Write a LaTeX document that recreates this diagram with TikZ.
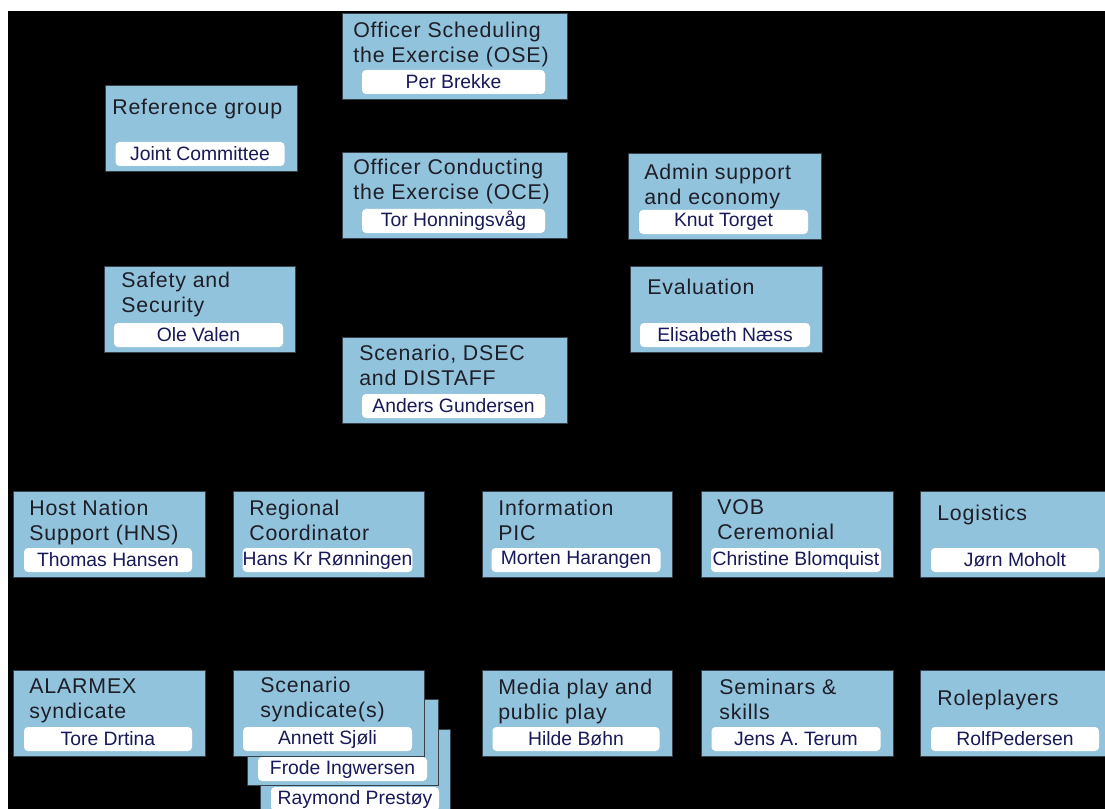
\documentclass[tikz,border=0pt]{standalone}
\usepackage{fontspec}
\setmainfont{Liberation Sans}
\newfontfamily\titlefont[LetterSpace=4]{Liberation Sans}

\definecolor{boxblue}{RGB}{146,195,220}
\definecolor{boxline}{RGB}{55,65,75}
\definecolor{titleink}{RGB}{30,30,40}
\definecolor{nameink}{RGB}{25,25,90}

\tikzset{
  unitbox/.style={draw=boxline, line width=0.75pt, fill=boxblue, anchor=north west, inner sep=0pt},
  namepill/.style={fill=white, rounded corners=3pt, inner sep=0pt, minimum height=18pt,
    font=\fontsize{14.5}{16}\selectfont, text=nameink},
  titletext/.style={anchor=north west, align=left, inner sep=0pt,
    font=\titlefont\fontsize{16}{18.75}\selectfont, text=titleink}
}

\begin{document}
\begin{tikzpicture}[x=0.75pt, y=-0.75pt]
    \useasboundingbox (0,0) rectangle (1105,809);
    \clip (0,0) rectangle (1105,809);

    % background
    \fill[white] (0,0) rectangle (1105,809);
    \fill[black] (8,11) rectangle (1105,809);

    % stacked cards behind the scenario syndicate
    \foreach \n/\x/\y/\w/\who in {synd3/260/729/190/{Raymond Prestøy}, synd2/247/699/191/{Frode Ingwersen}} {
        \pgfmathsetmacro\bw{0.75*\w}
        \pgfmathsetmacro\pw{0.75*(\w-22)}
        \node[unitbox, minimum width=\bw pt, minimum height=64.5pt] (\n) at (\x,\y) {};
        \node[namepill, minimum width=\pw pt] (\n-who) at (\x+\w/2,\y+70) {\who};
    }

    % units: name/x/y/width/title inset/title baseline/pill width/title/person
    \foreach \n/\x/\y/\w/\ti/\tb/\p/\title/\who in {
        ose/342/13/225/11/24/183/{Officer Scheduling\\the Exercise (OSE)}/{Per Brekke},
        ref/105/85/192/7/29/169/{Reference group}/{Joint Committee},
        oce/342/152/225/11/22/183/{Officer Conducting\\the Exercise (OCE)}/{Tor Honningsvåg},
        admin/628/153/193/16/26/169/{Admin support\\and economy}/{Knut Torget},
        safety/104/266/191/17/21/169/{Safety and\\Security}/{Ole Valen},
        eval/630/266/192/17/28/170/{Evaluation}/{Elisabeth Næss},
        dsec/342/337/225/17/23/183/{Scenario, DSEC\\and DISTAFF}/{Anders Gundersen},
        hns/13/491/192/16/24/168/{Host Nation\\Support (HNS)}/{Thomas Hansen},
        regional/233/491/191/16/24/169/{Regional\\Coordinator}/{Hans Kr Rønningen},
        info/482/491/190/16/24/169/{Information\\PIC}/{Morten Harangen},
        vob/701/491/192/16/24/170/{VOB\\Ceremonial}/{Christine Blomquist},
        logistics/920/491/192/17/29/168/{Logistics}/{Jørn Moholt},
        alarmex/13/670/192/16/24/168/{ALARMEX\\syndicate}/{Tore Drtina},
        synd/233/670/191/27/22/169/{Scenario\\syndicate(s)}/{Annett Sjøli},
        media/482/670/190/16/24/167/{Media play and\\public play}/{Hilde Bøhn},
        seminars/701/670/192/18/24/169/{Seminars \&\\skills}/{Jens A. Terum},
        roleplayers/920/670/192/17/35/168/{Roleplayers}/{RolfPedersen}} {
        \pgfmathsetmacro\bw{0.75*\w}
        \pgfmathsetmacro\pw{0.75*\p}
        \node[unitbox, minimum width=\bw pt, minimum height=64.5pt] (\n) at (\x,\y) {};
        \node[titletext] (\n-title) at (\x+\ti,\y+\tb-15.5) {\title};
        \node[namepill, minimum width=\pw pt] (\n-who) at (\x+\w/2-1,\y+69) {\who};
    }
\end{tikzpicture}
\end{document}
